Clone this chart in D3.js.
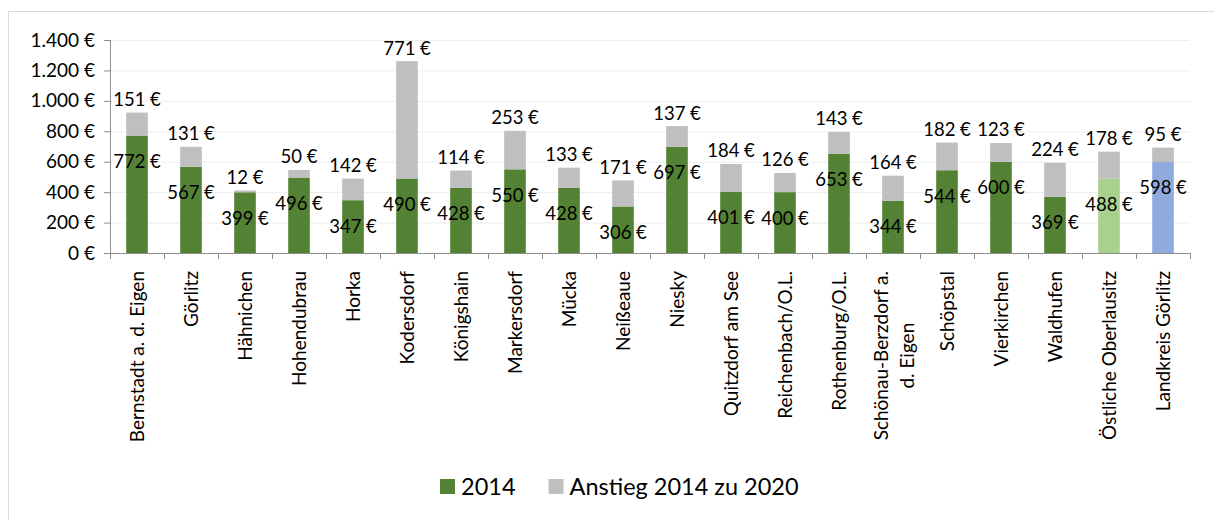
<!DOCTYPE html>
<html>
<head>
<meta charset="utf-8">
<script src="https://cdn.jsdelivr.net/npm/d3@7"></script>
<style>
  body { margin: 0; background: #fff; }
  svg text { font-family: Lato, "Open Sans", sans-serif; fill: #000; }
</style>
</head>
<body>
<div id="chart"></div>
<script>
// data
var categories = ["Bernstadt a. d. Eigen", "Görlitz", "Hähnichen", "Hohendubrau", "Horka",
  "Kodersdorf", "Königshain", "Markersdorf", "Mücka", "Neißeaue", "Niesky",
  "Quitzdorf am See", "Reichenbach/O.L.", "Rothenburg/O.L.", "Schönau-Berzdorf a.|d. Eigen",
  "Schöpstal", "Vierkirchen", "Waldhufen", "Östliche Oberlausitz", "Landkreis Görlitz"];
var values2014 = [772, 567, 399, 496, 347, 490, 428, 550, 428, 306, 697, 401, 400, 653, 344, 544, 600, 369, 488, 598];
var anstieg = [151, 131, 12, 50, 142, 771, 114, 253, 133, 171, 137, 184, 126, 143, 164, 182, 123, 224, 178, 95];
var seriesNames = ["2014", "Anstieg 2014 zu 2020"];
var yTicks = [0, 200, 400, 600, 800, 1000, 1200, 1400];

// set the dimensions and margins of the graph
var margin = {top: 40, right: 24, bottom: 267, left: 110},
    width = 1214 - margin.left - margin.right,
    height = 520 - margin.top - margin.bottom;

var deLocale = d3.formatLocale({decimal: ",", thousands: ".", grouping: [3], currency: ["", " €"]});
var euro = function(v) { return deLocale.format(",.0f")(v) + " €"; };

var colGreen = "#548235", colGrey = "#BFBFBF", colLight = "#A9D18E", colBlue = "#8FAADC";
function baseColor(i) {
  if (i == categories.length - 2) return colLight;
  if (i == categories.length - 1) return colBlue;
  return colGreen;
}

var svgRoot = d3.select("#chart")
  .append("svg")
    .attr("width", 1214)
    .attr("height", 520);

// chart frame
svgRoot.append("rect")
  .attr("x", 8.5).attr("y", 11.5)
  .attr("width", 1220).attr("height", 520)
  .attr("fill", "none")
  .attr("stroke", "#D9D9D9");

var svg = svgRoot.append("g")
    .attr("transform", "translate(" + margin.left + "," + margin.top + ")");

var data = categories.map(function(c, i) {
  return {cat: c, base: values2014[i], add: anstieg[i], idx: i};
});

// X scale
var x = d3.scaleBand()
  .range([0, width])
  .domain(categories)
  .paddingInner(0.6)
  .paddingOuter(0.3);

// Y scale
var y = d3.scaleLinear()
  .domain([0, 1400])
  .range([height, 0]);

// gridlines
svg.append("g")
  .call(d3.axisLeft(y).tickValues(yTicks).tickSize(-width).tickFormat(""))
  .call(function(g) {
    g.select(".domain").remove();
    g.selectAll("line").attr("stroke", "#EDEDED").attr("stroke-width", 1);
  });

// bars: 2014
svg.selectAll("rect.base")
  .data(data)
  .enter()
  .append("rect")
    .attr("class", "base")
    .attr("x", function(d) { return x(d.cat); })
    .attr("width", x.bandwidth())
    .attr("y", function(d) { return y(d.base); })
    .attr("height", function(d) { return y(0) - y(d.base); })
    .attr("fill", function(d) { return baseColor(d.idx); });

// bars: Anstieg
svg.selectAll("rect.add")
  .data(data)
  .enter()
  .append("rect")
    .attr("class", "add")
    .attr("x", function(d) { return x(d.cat); })
    .attr("width", x.bandwidth())
    .attr("y", function(d) { return y(d.base + d.add); })
    .attr("height", function(d) { return y(d.base) - y(d.base + d.add); })
    .attr("fill", colGrey);

// Y axis
svg.append("g")
  .call(d3.axisLeft(y).tickValues(yTicks).tickSize(6).tickPadding(9).tickFormat(euro))
  .call(function(g) {
    g.select(".domain").attr("stroke", "#8C8C8C").attr("d", "M0.5," + y(1400) + "V" + y(0));
    g.selectAll("line").attr("stroke", "#8C8C8C");
    g.selectAll("text").style("font-size", "19px").attr("fill", "#000");
  });

// X axis line + ticks between categories
var xAxis = svg.append("g").attr("transform", "translate(0," + height + ")");
xAxis.append("line")
  .attr("x1", 0).attr("x2", width)
  .attr("y1", 0.5).attr("y2", 0.5)
  .attr("stroke", "#8C8C8C");
xAxis.selectAll("line.tick")
  .data(d3.range(categories.length + 1))
  .enter()
  .append("line")
    .attr("class", "tick")
    .attr("x1", function(i) { return Math.round(i * x.step()) + 0.5; })
    .attr("x2", function(i) { return Math.round(i * x.step()) + 0.5; })
    .attr("y1", 0).attr("y2", 6)
    .attr("stroke", "#8C8C8C");

// category labels, rotated
xAxis.selectAll("g.lab")
  .data(data)
  .enter()
  .append("g")
    .attr("class", "lab")
    .attr("transform", function(d) {
      return "translate(" + (x(d.cat) + x.bandwidth() / 2) + ",18)rotate(-90)";
    })
  .each(function(d) {
    var lines = d.cat.split("|");
    var g = d3.select(this);
    var first = g.append("text")
      .attr("text-anchor", "end")
      .attr("dy", "0.35em")
      .attr("y", lines.length > 1 ? -12 : 0)
      .style("font-size", "19px")
      .text(lines[0]);
    if (lines.length > 1) {
      var len = first.node().getComputedTextLength();
      g.append("text")
        .attr("text-anchor", "middle")
        .attr("x", -len / 2)
        .attr("y", 14)
        .attr("dy", "0.35em")
        .style("font-size", "19px")
        .text(lines[1]);
    }
  });

// value labels
svg.selectAll("text.vbase")
  .data(data)
  .enter()
  .append("text")
    .attr("class", "vbase")
    .attr("x", function(d) { return x(d.cat) + x.bandwidth() / 2; })
    .attr("y", function(d) { return y(d.base) + 26; })
    .attr("dy", "0.35em")
    .attr("text-anchor", "middle")
    .style("font-size", "18.5px")
    .text(function(d) { return euro(d.base); });

svg.selectAll("text.vadd")
  .data(data)
  .enter()
  .append("text")
    .attr("class", "vadd")
    .attr("x", function(d) { return x(d.cat) + x.bandwidth() / 2; })
    .attr("y", function(d) { return y(d.base + d.add) - 13; })
    .attr("dy", "0.35em")
    .attr("text-anchor", "middle")
    .style("font-size", "18.5px")
    .text(function(d) { return euro(d.add); });

// legend
var legend = svgRoot.append("g").attr("transform", "translate(440,487)");
var lx = 0;
[colGreen, colGrey].forEach(function(c, i) {
  legend.append("rect")
    .attr("x", lx).attr("y", -8)
    .attr("width", 15).attr("height", 15)
    .attr("fill", c);
  var t = legend.append("text")
    .attr("x", lx + 21)
    .attr("dy", "0.35em")
    .style("font-size", "23.5px")
    .text(seriesNames[i]);
  lx += 21 + t.node().getComputedTextLength() + 33;
});
</script>
</body>
</html>
